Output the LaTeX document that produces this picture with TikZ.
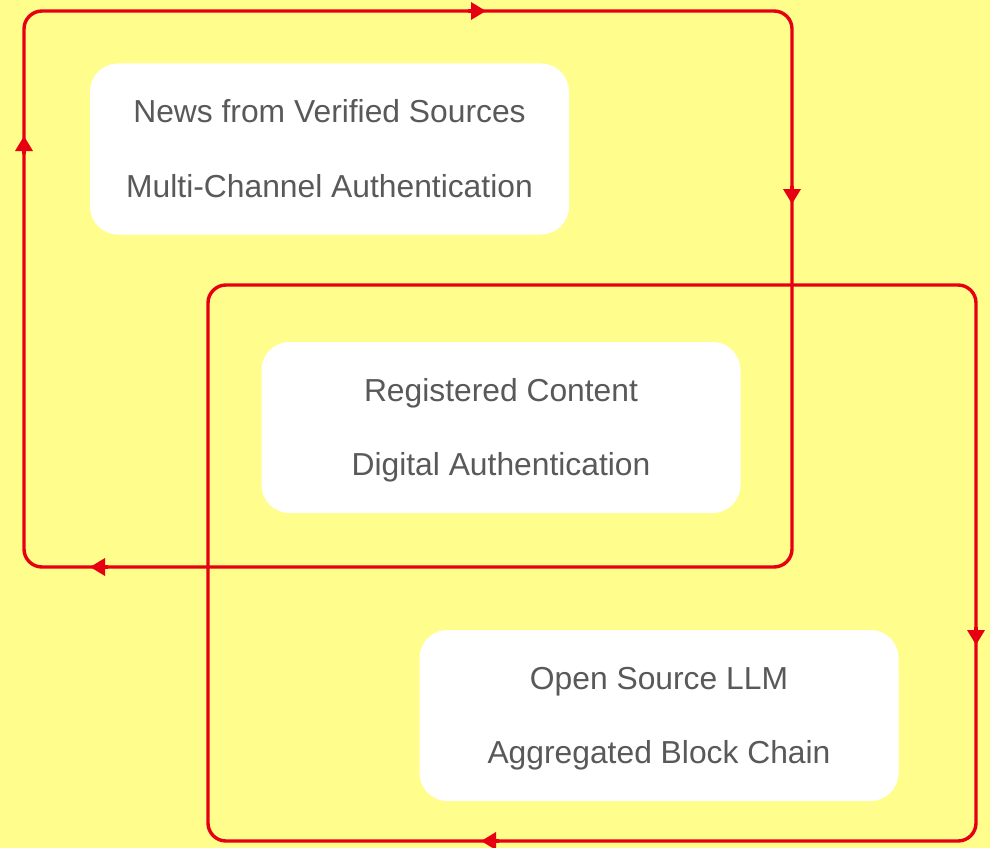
\documentclass[tikz,border=0pt]{standalone}
\usepackage{fontspec}
\setmainfont{Liberation Sans}
\usetikzlibrary{arrows.meta,calc}
\definecolor{bgyellow}{RGB}{255,253,140}
\definecolor{loopred}{RGB}{230,0,18}
\definecolor{txtgray}{RGB}{89,89,89}
\tikzset{
  loopline/.style={draw=loopred,line width=3.4pt,rounded corners=18pt},
  looptip/.style={draw=loopred,line width=3.4pt,-{Triangle[length=15pt,width=17pt]}},
  card/.style={fill=white,draw=none,rounded corners=28pt,minimum width=479pt,minimum height=171pt,inner sep=0pt},
  cardtext/.style={text=txtgray,font=\fontsize{31.8}{36}\selectfont,anchor=base,inner sep=0pt}
}
\begin{document}
\begin{tikzpicture}[x=1pt,y=-1pt]
\fill[bgyellow] (0,0) rectangle (990,848);
\useasboundingbox (0,0) rectangle (990,848);
% loop 1
\coordinate (l1a) at (24,567);
\coordinate (l1b) at (24,11);
\coordinate (l1c) at (792,11);
\coordinate (l1d) at (792,567);
\draw[loopline] (l1a) -- (l1b) -- (l1c) -- (l1d) -- cycle;
\coordinate (t1s) at (24,154);\coordinate (t1e) at (24,136);
\coordinate (t2s) at (468,11);\coordinate (t2e) at (486,11);
\coordinate (t3s) at (792,186);\coordinate (t3e) at (792,204);
\coordinate (t4s) at (108,567);\coordinate (t4e) at (90,567);
\draw[looptip] (t1s) -- (t1e);
\draw[looptip] (t2s) -- (t2e);
\draw[looptip] (t3s) -- (t3e);
\draw[looptip] (t4s) -- (t4e);
% loop 2
\coordinate (l2a) at (208,285);
\coordinate (l2b) at (976,285);
\coordinate (l2c) at (976,841);
\coordinate (l2d) at (208,841);
\draw[loopline] (l2a) -- (l2b) -- (l2c) -- (l2d) -- cycle;
\coordinate (t5s) at (976,627);\coordinate (t5e) at (976,645);
\coordinate (t6s) at (499,841);\coordinate (t6e) at (481,841);
\draw[looptip] (t5s) -- (t5e);
\draw[looptip] (t6s) -- (t6e);
% cards
\node[card] (c1) at (329.5,149) {};
\node[cardtext] (c1a) at ($(c1.center)+(0,-26)$) {News from Verified Sources};
\node[cardtext] (c1b) at ($(c1.center)+(0,48)$) {Multi-Channel Authentication};
\node[card] (c2) at (501,427.5) {};
\node[cardtext] (c2a) at ($(c2.center)+(0,-26)$) {Registered Content};
\node[cardtext] (c2b) at ($(c2.center)+(0,48)$) {Digital Authentication};
\node[card] (c3) at (659,715.5) {};
\node[cardtext] (c3a) at ($(c3.center)+(0,-26)$) {Open Source LLM};
\node[cardtext] (c3b) at ($(c3.center)+(0,48)$) {Aggregated Block Chain};
\end{tikzpicture}
\end{document}
